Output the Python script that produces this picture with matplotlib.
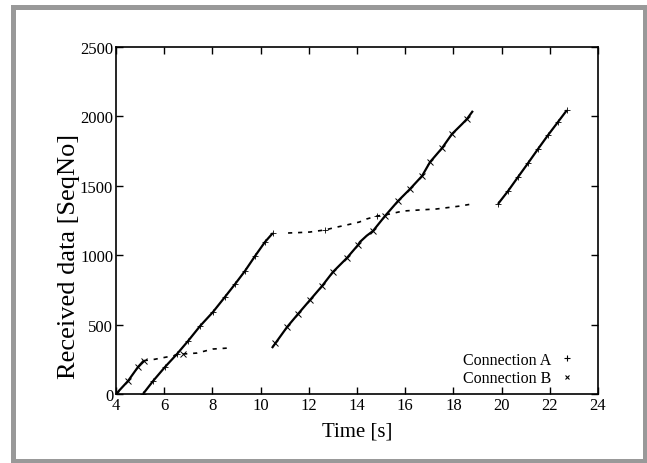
#!/usr/bin/env python3
"""Received sequence numbers of two TCP connections over time."""

import matplotlib

matplotlib.use("Agg")

import matplotlib.pyplot as plt
from matplotlib.lines import Line2D
from matplotlib.patches import Rectangle

# Connection A (+): fast, slow, fast again
a_fast1_t = [5.12, 5.54, 6.03, 6.53, 6.99, 7.49, 8.02, 8.52, 8.94, 9.35, 9.77, 10.18, 10.51]
a_fast1_v = [0, 94, 194, 288, 382, 490, 590, 699, 792, 886, 994, 1095, 1160]
a_slow_t = [11.14, 11.6, 12.05, 12.67, 13.1, 13.58, 14.1, 14.4, 14.83, 15.37, 15.9, 16.6, 17.3, 17.86, 18.27, 18.77]
a_slow_v = [1160, 1163, 1167, 1182, 1200, 1218, 1239, 1261, 1282, 1297, 1318, 1326, 1333, 1345, 1354, 1369]
a_slow_mark_t = [12.67, 14.83]
a_slow_mark_v = [1182, 1282]
a_fast2_t = [19.85, 20.27, 20.68, 21.1, 21.51, 21.93, 22.34, 22.71]
a_fast2_v = [1369, 1463, 1563, 1664, 1765, 1866, 1960, 2045]

# Connection B (x)
b_fast1_t = [4.0, 4.5, 4.91, 5.15]
b_fast1_v = [0, 94, 194, 240]
b_slow_t = [5.15, 5.6, 6.12, 6.57, 6.78, 7.36, 8.02, 8.65]
b_slow_v = [240, 250, 267, 281, 288, 295, 324, 331]
b_slow_mark_t = [6.78]
b_slow_mark_v = [288]
b_fast2_t = [10.47, 11.1, 11.55, 12.05, 12.55, 13.0, 13.58, 14.04, 14.12, 14.4, 14.66,
             15.16, 15.7, 16.2, 16.7, 17.03, 17.53, 17.94, 18.15, 18.36, 18.56, 18.81]
b_fast2_v = [331, 483, 576, 677, 778, 879, 980, 1073, 1095, 1140, 1174,
             1282, 1390, 1477, 1571, 1671, 1772, 1873, 1909, 1945, 1981, 2040]
b_fast2_mark_t = [10.6, 11.1, 11.55, 12.05, 12.55, 13.0, 13.58, 14.04, 14.66, 15.16,
                  15.7, 16.2, 16.7, 17.03, 17.53, 17.94, 18.56]
b_fast2_mark_v = [370, 483, 576, 677, 778, 879, 980, 1073, 1174, 1282,
                  1390, 1477, 1571, 1671, 1772, 1873, 1981]

x_ticks = [4, 6, 8, 10, 12, 14, 16, 18, 20, 22, 24]
y_ticks = [0, 500, 1000, 1500, 2000, 2500]


def main() -> int:
    plt.rcParams["font.family"] = ["Liberation Serif", "DejaVu Serif"]
    fig = plt.figure(figsize=(6.47, 4.64), dpi=100)
    W, H = 647, 464

    # grey frame around the whole figure
    fig.patches.append(Rectangle((12.5 / W, 2.5 / H), 632 / W, 454 / H,
                                 transform=fig.transFigure, fill=False,
                                 edgecolor="#999999", linewidth=3.6))

    ax = fig.add_axes([116 / W, 69 / H, 482 / W, 347 / H])

    solid = dict(color="black", linewidth=1.6, solid_capstyle="butt")
    dashed = dict(color="black", linewidth=1.2, linestyle=(0, (2.5, 3.5)))
    plus = dict(marker="+", color="black", linestyle="none", markersize=4, markeredgewidth=0.6)
    cross = dict(marker="x", color="black", linestyle="none", markersize=3.8, markeredgewidth=0.7)

    # connection A
    ax.plot(a_fast1_t, a_fast1_v, **solid)
    ax.plot(a_fast1_t, a_fast1_v, **plus)
    ax.plot(a_slow_t, a_slow_v, **dashed)
    ax.plot(a_slow_mark_t, a_slow_mark_v, **plus)
    ax.plot(a_fast2_t, a_fast2_v, **solid)
    ax.plot(a_fast2_t, a_fast2_v, **plus)

    # connection B
    ax.plot(b_fast1_t, b_fast1_v, **solid)
    ax.plot(b_fast1_t, b_fast1_v, **cross)
    ax.plot(b_slow_t, b_slow_v, **dashed)
    ax.plot(b_slow_mark_t, b_slow_mark_v, **cross)
    ax.plot(b_fast2_t, b_fast2_v, **solid)
    ax.plot(b_fast2_mark_t, b_fast2_mark_v, **cross)

    ax.set_xlim(4, 24)
    ax.set_ylim(0, 2500)
    ax.set_xticks(x_ticks)
    ax.set_yticks(y_ticks)
    ax.tick_params(direction="in", top=True, right=True, length=5, width=1,
                   labelsize=12, pad=2)
    for s in ax.spines.values():
        s.set_linewidth(1.2)

    ax.set_xlabel("Time [s]", fontsize=15, labelpad=6)
    ax.set_ylabel("Received data [SeqNo]", fontsize=19)
    ax.yaxis.set_label_coords(-0.075, 0.40)

    handles = [
        Line2D([], [], marker="+", color="black", linestyle="none", markersize=4.5, markeredgewidth=0.8),
        Line2D([], [], marker="x", color="black", linestyle="none", markersize=3.5, markeredgewidth=0.8),
    ]
    ax.legend(handles, ["Connection A", "Connection B"], loc="lower right",
              bbox_to_anchor=(0.975, -0.01), frameon=False, markerfirst=False,
              fontsize=11.5, handlelength=1.0, handletextpad=0.5, labelspacing=0.15,
              borderpad=0.2)

    fig.savefig("out.png", dpi=100)
    return 0


if __name__ == "__main__":
    raise SystemExit(main())
